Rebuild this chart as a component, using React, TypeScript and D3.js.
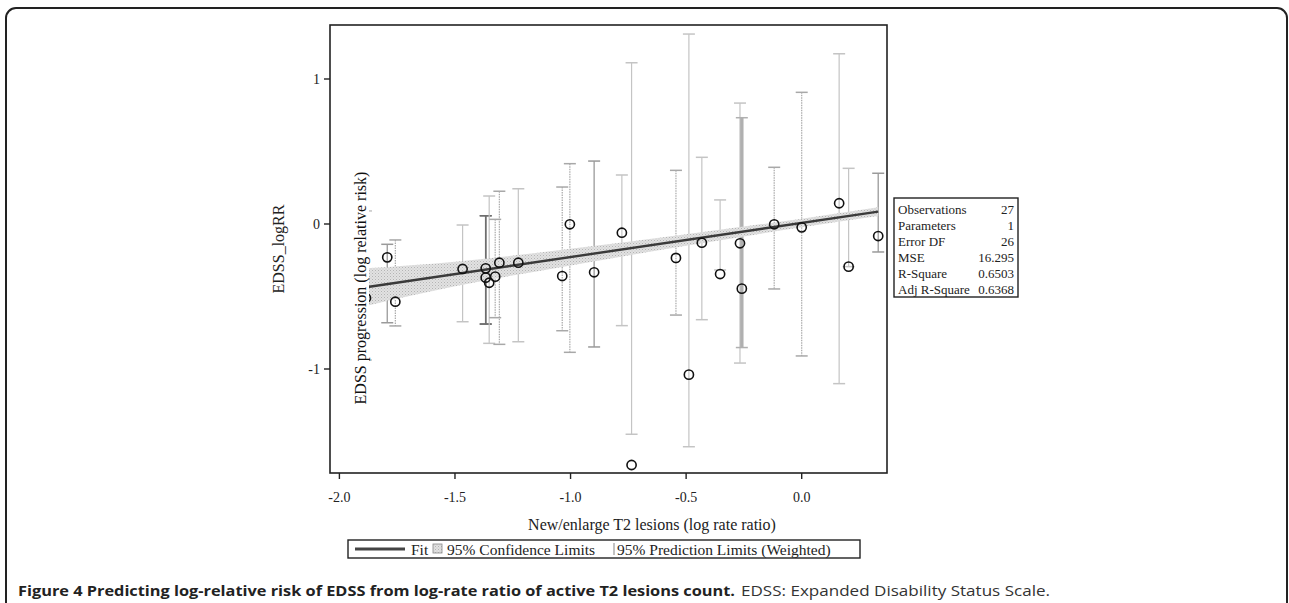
import * as d3 from 'd3';

// observations (x = log rate ratio of T2 lesions, y = log relative risk of EDSS)
const obsX = [-1.885, -1.793, -1.758, -1.467, -1.367, -1.367, -1.352, -1.326, -1.308, -1.226, -1.036, -1.003, -0.898, -0.778, -0.736, -0.544, -0.488, -0.432, -0.353, -0.267, -0.259, -0.119, 0.0, 0.162, 0.203, 0.331];
const obsY = [-0.51, -0.23, -0.536, -0.31, -0.306, -0.37, -0.405, -0.363, -0.267, -0.267, -0.359, -0.002, -0.333, -0.06, -1.662, -0.234, -1.039, -0.129, -0.345, -0.133, -0.446, -0.002, -0.023, 0.143, -0.294, -0.083];
// 95% prediction limits (weighted)
const predHi = [0.09, -0.14, -0.11, -0.007, 0.057, 0.057, 0.193, 0.032, 0.226, 0.243, 0.255, 0.416, 0.434, 0.338, 1.112, 0.37, 1.31, 0.46, 0.166, 0.834, 0.733, 0.391, 0.908, 1.174, 0.384, 0.35];
const predLo = [-0.938, -0.681, -0.703, -0.674, -0.69, -0.69, -0.823, -0.646, -0.83, -0.812, -0.736, -0.885, -0.848, -0.701, -1.45, -0.628, -1.536, -0.66, -0.317, -0.959, -0.852, -0.448, -0.91, -1.101, -0.294, -0.193];
const barKind = ['light', 'medium', 'dotted', 'light', 'dark', 'dark', 'light', 'dotted', 'dotted', 'light', 'dotted', 'dotted', 'medium', 'light', 'light', 'dotted', 'light', 'light', 'light', 'light', 'thick', 'dotted', 'dotted', 'light', 'light', 'medium'];

// fit line and 95% confidence band
const fitX = [-1.885, 0.331];
const fitY = [-0.436, 0.085];
const bandX = [-1.885, -1.5, -1.0, -0.5, 0.0, 0.331];
const bandLo = [-0.566, -0.43, -0.286, -0.15, -0.023, 0.055];
const bandHi = [-0.306, -0.26, -0.17, -0.07, 0.037, 0.115];

const xTicks = [-2.0, -1.5, -1.0, -0.5, 0.0];
const yTicks = [1, 0, -1];

const statLabels = ['Observations', 'Parameters', 'Error DF', 'MSE', 'R-Square', 'Adj R-Square'];
const statValues = ['27', '1', '26', '16.295', '0.6503', '0.6368'];

const PLOT = { left: 330, top: 25, right: 887, bottom: 473 };
const SERIF = '"Liberation Serif", "Times New Roman", serif';

const barStyle: Record<string, { stroke: string; width: number; dash?: string }> = {
  light: { stroke: '#c4c4c4', width: 1.2 },
  medium: { stroke: '#9a9a9a', width: 1.3 },
  dark: { stroke: '#6e6e6e', width: 1.5 },
  dotted: { stroke: '#a8a8a8', width: 1.2, dash: '1.5,1' },
  thick: { stroke: '#b0b0b0', width: 3.4 },
};

// plain hyphen minus, as in the original output
const fmt = (t: number, digits: number) => t.toFixed(digits);

export default function App() {
  const x = d3.scaleLinear().domain([-2, 0]).range([339.4, 801.7]);
  const y = d3.scaleLinear().domain([0, 1]).range([224, 79]);

  const band = d3.area<number>()
    .x((_, i) => x(bandX[i]))
    .y0((_, i) => y(bandLo[i]))
    .y1((_, i) => y(bandHi[i]))
    .curve(d3.curveMonotoneX)(bandX);

  const fit = d3.line<number>()
    .x((_, i) => x(fitX[i]))
    .y((d) => y(d))(fitY);

  const capW = 6;

  return (
    <svg width={1289} height={603} style={{ position: 'absolute', left: 0, top: 0, background: '#fff' }}
      fontFamily={SERIF}>
      <defs>
        <pattern id="hatch" width={3} height={3} patternUnits="userSpaceOnUse">
          <rect width={3} height={3} fill="#e2e2e2" />
          <rect x={0} y={0} width={1} height={1} fill="#b4b4b4" />
          <rect x={1.5} y={1.5} width={1} height={1} fill="#c4c4c4" />
        </pattern>
        <clipPath id="plotClip">
          <rect x={PLOT.left} y={PLOT.top} width={PLOT.right - PLOT.left} height={PLOT.bottom - PLOT.top} />
        </clipPath>
      </defs>

      {/* outer rounded frame */}
      <rect x={6} y={8} width={1281} height={700} rx={10} fill="none" stroke="#222" strokeWidth={2} />

      {/* plot contents */}
      <g clipPath="url(#plotClip)">
        {obsX.map((xv, i) => {
          const s = barStyle[barKind[i]];
          const cx = x(xv);
          return (
            <g key={'pl' + i} stroke={s.stroke} strokeWidth={s.width}>
              <line x1={cx} x2={cx} y1={y(predHi[i])} y2={y(predLo[i])} strokeDasharray={s.dash} />
              <line x1={cx - capW} x2={cx + capW} y1={y(predHi[i])} y2={y(predHi[i])} strokeWidth={1.5} />
              <line x1={cx - capW} x2={cx + capW} y1={y(predLo[i])} y2={y(predLo[i])} strokeWidth={1.5} />
            </g>
          );
        })}
        <path d={band ?? ''} fill="url(#hatch)" />
        <path d={fit ?? ''} fill="none" stroke="#3a3a3a" strokeWidth={2.4} />
        {obsX.map((xv, i) => (
          <circle key={'pt' + i} cx={x(xv)} cy={y(obsY[i])} r={4.6} fill="none" stroke="#111" strokeWidth={1.6} />
        ))}

        {/* inner axis label with white backing */}
        <rect x={350} y={166} width={19} height={243} fill="#fff" />
        <text transform={`translate(366,${288}) rotate(-90)`} textAnchor="middle" fontSize={16} fill="#111">
          EDSS progression (log relative risk)
        </text>
      </g>

      {/* frame */}
      <rect x={PLOT.left} y={PLOT.top} width={PLOT.right - PLOT.left} height={PLOT.bottom - PLOT.top}
        fill="none" stroke="#222" strokeWidth={1.6} />

      {/* y axis */}
      {yTicks.map((t) => (
        <g key={'yt' + t}>
          <line x1={PLOT.left - 6} x2={PLOT.left} y1={y(t)} y2={y(t)} stroke="#222" strokeWidth={1.4} />
          <text x={PLOT.left - 10} y={y(t) + 5} textAnchor="end" fontSize={14} fill="#222">{fmt(t, 0)}</text>
        </g>
      ))}
      <text transform={`translate(284,${(PLOT.top + PLOT.bottom) / 2}) rotate(-90)`} textAnchor="middle" fontSize={16} fill="#222">
        EDSS_logRR
      </text>

      {/* x axis */}
      {xTicks.map((t) => (
        <g key={'xt' + t}>
          <line x1={x(t)} x2={x(t)} y1={PLOT.bottom} y2={PLOT.bottom + 6} stroke="#222" strokeWidth={1.4} />
          <text x={x(t)} y={502} textAnchor="middle" fontSize={14} fill="#222">{fmt(t, 1)}</text>
        </g>
      ))}
      <text x={652} y={530} textAnchor="middle" fontSize={16} fill="#222">New/enlarge T2 lesions (log rate ratio)</text>

      {/* statistics box */}
      <rect x={894} y={198} width={124} height={99} fill="#fff" stroke="#222" strokeWidth={1.4} />
      {statLabels.map((l, i) => (
        <g key={'st' + i} fontSize={13} fill="#222">
          <text x={898} y={214 + i * 16}>{l}</text>
          <text x={1014} y={214 + i * 16} textAnchor="end">{statValues[i]}</text>
        </g>
      ))}

      {/* legend */}
      <rect x={348} y={540} width={512} height={18} fill="#fff" stroke="#222" strokeWidth={1.4} />
      <line x1={355} x2={405} y1={549} y2={549} stroke="#444" strokeWidth={2.8} />
      <text x={411} y={554.5} fontSize={15.5} fill="#222">Fit</text>
      <rect x={433} y={544} width={9} height={9} fill="url(#hatch)" stroke="#888" strokeWidth={0.8} />
      <text x={447} y={554.5} fontSize={15.5} fill="#222">95% Confidence Limits</text>
      <line x1={614} x2={614} y1={543} y2={555} stroke="#999" strokeWidth={1.2} />
      <text x={617} y={554.5} fontSize={15.5} fill="#222">95% Prediction Limits (Weighted)</text>

      {/* caption */}
      <text x={18} y={596} fontFamily='"Open Sans", sans-serif' fontSize={14} fontWeight="bold" fill="#222"
        textLength={717} lengthAdjust="spacingAndGlyphs">
        Figure 4 Predicting log-relative risk of EDSS from log-rate ratio of active T2 lesions count.
      </text>
      <text x={741} y={596} fontFamily='"Open Sans", sans-serif' fontSize={14} fill="#333"
        textLength={309} lengthAdjust="spacingAndGlyphs">
        EDSS: Expanded Disability Status Scale.
      </text>
    </svg>
  );
}
